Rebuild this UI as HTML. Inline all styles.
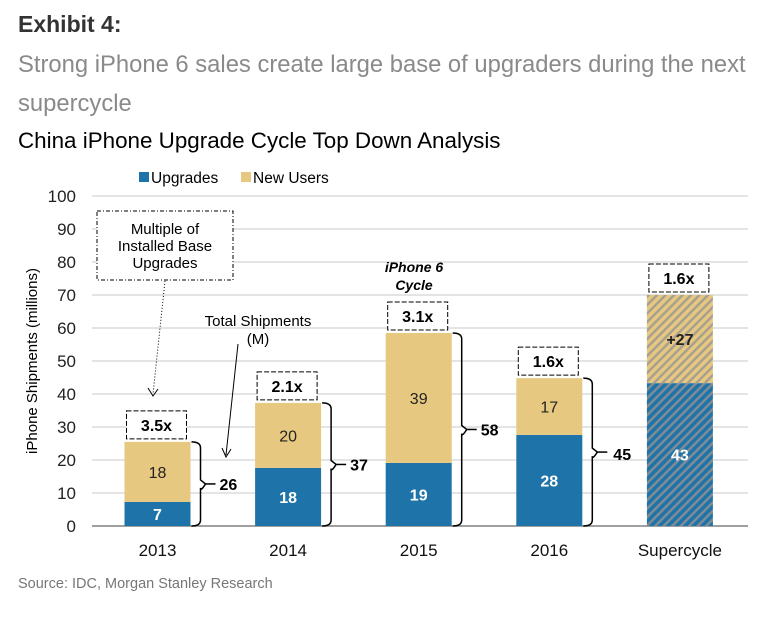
<!DOCTYPE html>
<html><head><meta charset="utf-8"><style>
body{margin:0;background:#fff;width:776px;height:615px;overflow:hidden;font-family:"Liberation Sans",Arial,sans-serif}
</style></head><body>
<svg width="776" height="615" xmlns="http://www.w3.org/2000/svg">
<defs>
<pattern id="hb" width="6" height="6" patternUnits="userSpaceOnUse" patternTransform="rotate(45)"><rect width="6" height="6" fill="#1e74a8"/><rect width="2.5" height="6" fill="#7f8b95"/></pattern>
<pattern id="hn" width="6" height="6" patternUnits="userSpaceOnUse" patternTransform="rotate(45)"><rect width="6" height="6" fill="#e7c880"/><rect width="2.5" height="6" fill="#a8a090"/></pattern>
</defs>
<text x="18" y="32" font-size="23" font-weight="bold" fill="#333">Exhibit 4:</text>
<text x="18" y="72" font-size="23.8" fill="#8a8a8a">Strong iPhone 6 sales create large base of upgraders during the next</text>
<text x="18" y="111" font-size="23.8" fill="#8a8a8a">supercycle</text>
<text x="18" y="148" font-size="22.4" fill="#000">China iPhone Upgrade Cycle Top Down Analysis</text>
<g>
<rect x="139" y="172" width="10" height="10" fill="#1e74a8"/>
<text x="151" y="183" font-size="15.5">Upgrades</text>
<rect x="241" y="172" width="10" height="10" fill="#e7c880"/>
<text x="253" y="183" font-size="15.5">New Users</text>
</g>
<text transform="translate(37,361) rotate(-90)" text-anchor="middle" font-size="15">iPhone Shipments (millions)</text>
<g id="grid"></g><g id="bars"></g><g id="ann"></g>
<text x="18" y="588" font-size="14.5" fill="#777">Source: IDC, Morgan Stanley Research</text>
</svg>
<script>
const categories=["2013","2014","2015","2016","Supercycle"];
const upgrades=[7.3,17.6,19.1,27.6,43.3];
const newUsers=[18.2,19.7,39.4,17.2,26.7];
const upgradeLabels=["7","18","19","28","43"];
const newLabels=["18","20","39","17","+27"];
const totalLabels=["26","37","58","45",""];
const multiples=["3.5x","2.1x","3.1x","1.6x","1.6x"];
const yTicks=[0,10,20,30,40,50,60,70,80,90,100];
const NS="http://www.w3.org/2000/svg";
const y0=526,ppu=3.3,x0=92,x1=748,step=130.6,cx0=157.5,bw=66;
const y=v=>y0-v*ppu, xc=i=>cx0+i*step;
function mk(tag,attrs,parent,text){const e=document.createElementNS(NS,tag);for(const k in attrs)e.setAttribute(k,attrs[k]);if(text!==undefined)e.textContent=text;parent.appendChild(e);return e;}
const grid=document.getElementById('grid'),bars=document.getElementById('bars'),ann=document.getElementById('ann');
yTicks.forEach(t=>{
 const l=mk('line',{x1:x0,x2:x1,y1:y(t),y2:y(t),stroke:t===0?'#808080':'#c8c8c8','stroke-width':t===0?1.5:1},grid);
 
 
 const tx=mk('text',{x:76,y:y(t)+6,'text-anchor':'end','font-size':17,fill:'#222'},grid,String(t));
 
 
});
categories.forEach((c,i)=>{
 const sc=i===4, x=xc(i)-bw/2, u=upgrades[i], n=newUsers[i], top=y(u+n);
 const b=mk('rect',{x:x,y:y(u),width:bw,height:u*ppu,fill:sc?'url(#hb)':'#1e74a8'},bars);
 
 
 const b2=mk('rect',{x:x,y:top,width:bw,height:n*ppu,fill:sc?'url(#hn)':'#e7c880'},bars);
 
 
 const ul=mk('text',{x:xc(i),y:y(u/2)+6,'text-anchor':'middle','font-size':16,'font-weight':'bold',fill:'#fff'},bars,upgradeLabels[i]);
 
 
 const nl=mk('text',{x:xc(i),y:y(u+n/2)+6,'text-anchor':'middle','font-size':16,'font-weight':sc?'bold':'normal',fill:'#222'},bars,newLabels[i]);
 
 
 const cl=mk('text',{x:xc(i),y:556,'text-anchor':'middle','font-size':17,fill:'#111'},bars,c);
 
 
 const bx=mk('rect',{x:xc(i)-31,y:top-31,width:60,height:28,fill:'#fff',stroke:'#000','stroke-dasharray':'5,2','stroke-width':1},ann);
 
 
 const mt=mk('text',{x:xc(i)-1,y:top-11,'text-anchor':'middle','font-size':16,'font-weight':'bold'},ann,multiples[i]);
 
 
 if(totalLabels[i]){
  const bx0=x+bw+1, mid=(y0+top)/2;
  const br=mk('path',{d:`M${bx0},${y0} q${9},0 ${9},-6 L${bx0+9},${mid+4} q0,4 ${5},${-4} q-5,-4 -5,-4 L${bx0+9},${top+6} q0,-6 -9,-6`,fill:'none',stroke:'#000','stroke-width':1.5},ann);
  
  
  const ln=mk('line',{x1:bx0+14,x2:bx0+24,y1:mid,y2:mid,stroke:'#000','stroke-width':1.5},ann);
  
  
  const tt=mk('text',{x:bx0+(i===3?30:28),y:mid+(i===3?8:6),'font-size':16,'font-weight':'bold'},ann,totalLabels[i]);
  
  
 }
});
</script>
<svg style="position:absolute;left:0;top:0" width="776" height="615" xmlns="http://www.w3.org/2000/svg">
<rect x="97" y="211" width="136" height="69" fill="#fff" stroke="#000" stroke-dasharray="4,2,1,2"/>
<text x="165" y="234" text-anchor="middle" font-size="15"><tspan x="165">Multiple of</tspan><tspan x="165" dy="17">Installed Base</tspan><tspan x="165" dy="17">Upgrades</tspan></text>
<line x1="165" y1="281" x2="153" y2="394" stroke="#000" stroke-dasharray="1,2"/>
<path d="M148,388 L153,396 L158,389" fill="none" stroke="#000"/>
<text x="258" y="326" text-anchor="middle" font-size="15"><tspan x="258">Total Shipments</tspan><tspan x="258" dy="18">(M)</tspan></text>
<line x1="238" y1="344" x2="226" y2="455" stroke="#000"/>
<path d="M222,448 L226,457 L231,449" fill="none" stroke="#000"/>
<text x="414" y="272" text-anchor="middle" font-size="14" font-weight="bold" font-style="italic"><tspan x="414">iPhone 6</tspan><tspan x="414" dy="18">Cycle</tspan></text>
</svg>
</body></html>
